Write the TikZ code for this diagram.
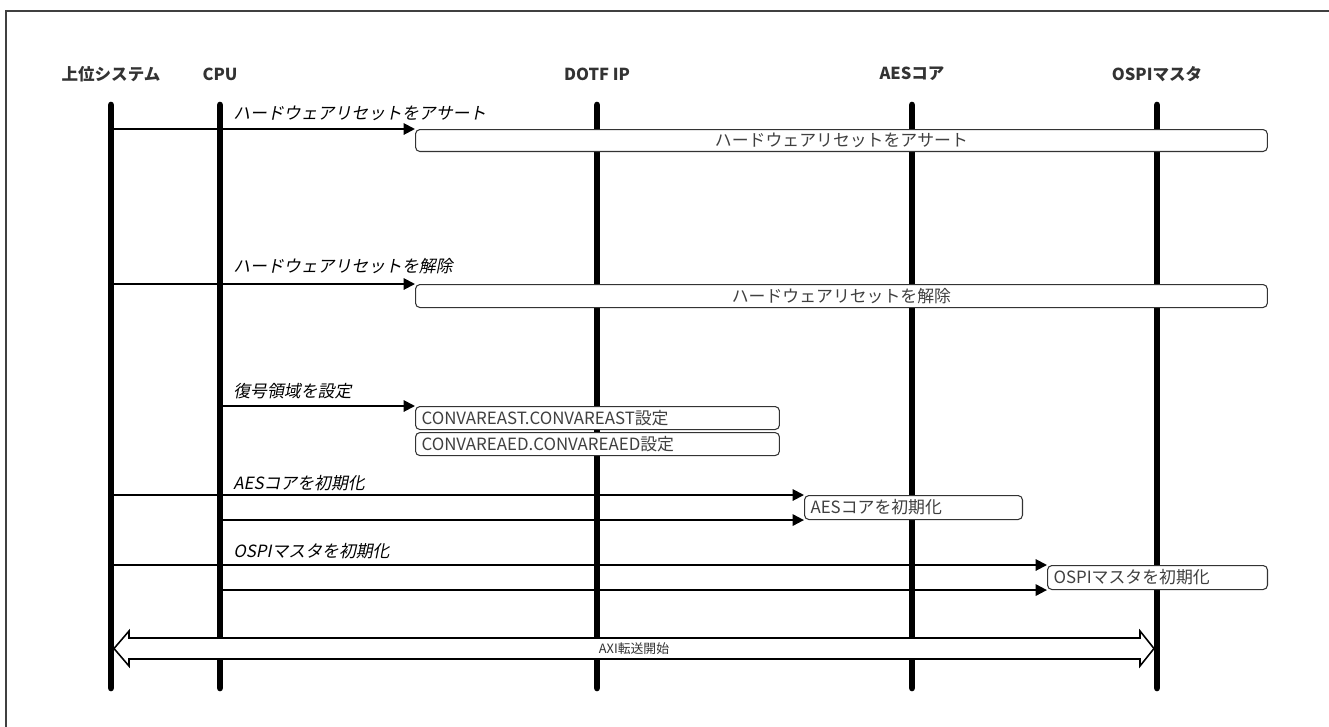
\documentclass[tikz,border=0pt]{standalone}
\usepackage{fontspec}
\setmainfont{Noto Sans CJK JP}[AutoFakeSlant=0.2]
\usepackage{tikz}
\usetikzlibrary{positioning,arrows.meta}

\begin{document}
\begin{tikzpicture}[
  x=0.02cm, y=-0.02cm, font=\fontsize{9.6}{11}\selectfont,
  >={Triangle[length=6.5pt,width=6.5pt]},
  head/.style={font=\fontsize{9.4}{11}\selectfont\bfseries, text=black!80},
  life/.style={line width=3.8pt, line cap=round},
  msg/.style={->, line width=1.1pt},
  lbl/.style={font=\fontsize{9.6}{11}\selectfont\itshape, anchor=west, inner sep=0pt},
  box/.style={draw=black!80, rounded corners=2.5pt, fill=white, text=black!75,
              line width=0.6pt, inner sep=0pt, anchor=north west},
  lbox/.style={box, align=left, inner xsep=0.12cm},
]
\useasboundingbox (0,0) rectangle (1329,727);
\draw[black!75, line width=1.1pt] (1329,11) -| (6,727);

\node[head] (sysh) at (111,74)  {上位システム};
\node[head] (cpuh) at (220,74)  {CPU};
\node[head] (doth) at (597,74)  {DOTF IP};
\node[head] (aesh) at (912,74)  {AESコア};
\node[head] (osph) at (1157,74) {OSPIマスタ};

\coordinate (sys) at (111,105);  \coordinate (sysend) at (111,688);
\coordinate (cpu) at (220,105);  \coordinate (cpuend) at (220,688);
\coordinate (dot) at (597,105);  \coordinate (dotend) at (597,688);
\coordinate (aes) at (912,105);  \coordinate (aesend) at (912,688);
\coordinate (osp) at (1157,105); \coordinate (ospend) at (1157,688);
\draw[life] (sys)--(sysend); \draw[life] (cpu)--(cpuend); \draw[life] (dot)--(dotend);
\draw[life] (aes)--(aesend); \draw[life] (osp)--(ospend);

\node[box, minimum width=17.04cm, minimum height=0.44cm] (hwa) at (415,129)
  {ハードウェアリセットをアサート};
\node[box, minimum width=17.04cm, minimum height=0.46cm] (hwr) at (415,284)
  {ハードウェアリセットを解除};
\node[lbox, text width=7.04cm, minimum height=0.46cm] (ast) at (415,406)
  {CONVAREAST.CONVAREAST設定};
\node[lbox, text width=7.04cm, minimum height=0.46cm, below=0.04cm of ast] (aed)
  {CONVAREAED.CONVAREAED設定};
\node[lbox, text width=4.12cm, minimum height=0.48cm] (aesi) at (804,495) {AESコアを初期化};
\node[lbox, text width=4.16cm, minimum height=0.48cm] (ospi) at (1047,565) {OSPIマスタを初期化};

\node[lbl] (hwalbl) at (233,113) {ハードウェアリセットをアサート};
\node[lbl] (hwrlbl) at (233,266) {ハードウェアリセットを解除};
\node[lbl] (astlbl) at (233,391) {復号領域を設定};
\node[lbl] (aeslbl) at (233,483) {AESコアを初期化};
\node[lbl] (osplbl) at (233,551) {OSPIマスタを初期化};

\draw[msg] (sys |- hwa.north west) -- (hwa.north west);
\draw[msg] (sys |- hwr.north west) -- (hwr.north west);
\draw[msg] (cpu |- ast.north west) -- (ast.north west);
\draw[msg] (sys |- aesi.north west) -- (aesi.north west);
\draw[msg] (cpu |- aesi.south west) -- (aesi.south west);
\draw[msg] (sys |- ospi.north west) -- (ospi.north west);
\draw[msg] (cpu |- ospi.south west) -- (ospi.south west);

\coordinate (axl) at (114,648.5); \coordinate (axr) at (1154,648.5);
\draw[fill=white, line width=0.9pt] (axl) -- ++(15,-17.5) -- ++(0,7) -- ++(1011,0)
  -- ++(0,-7) -- (axr) -- ++(-14,17.5) -- ++(0,-7) -- ++(-1011,0) -- ++(0,7) -- cycle;
\node[font=\fontsize{7.3}{9}\selectfont, text=black!80] (axi) at (634,648.5) {AXI転送開始};
\end{tikzpicture}
\end{document}
